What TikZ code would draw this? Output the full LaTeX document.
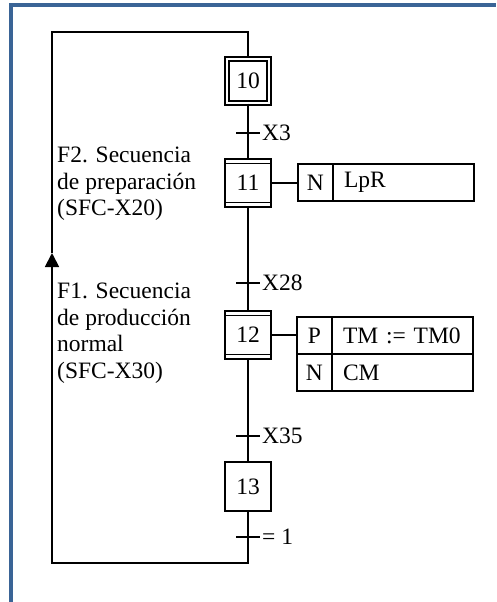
\documentclass[tikz,border=0pt]{standalone}
\usepackage{fontspec}
\setmainfont{Liberation Serif}
\usetikzlibrary{arrows.meta, positioning}
\definecolor{frameblue}{HTML}{3A6496}

\begin{document}
\begin{tikzpicture}[
  x=1pt,y=-1pt,
  every node/.style={font=\fontsize{23.5}{26.5}\selectfont},
  stepbox/.style={rectangle,draw,line width=1.8pt,minimum width=46.2pt,minimum height=48.3pt,inner sep=0pt},
  initstep/.style={stepbox,double,double distance=2.4pt,minimum width=41.6pt,minimum height=43.6pt},
  macrostep/.style={stepbox,path picture={
      \draw[line width=1.8pt]([yshift=-4.6pt]path picture bounding box.north west)--([yshift=-4.6pt]path picture bounding box.north east);
      \draw[line width=1.8pt]([yshift=4.6pt]path picture bounding box.south west)--([yshift=4.6pt]path picture bounding box.south east);}},
  trans/.style={rectangle,fill=black,minimum width=24pt,minimum height=1.9pt,inner sep=0pt,outer sep=0pt,label distance=2pt},
  tlbl/.style={inner sep=2pt},
  qual/.style={rectangle,draw,line width=1.8pt,minimum width=35.2pt,minimum height=37.2pt,inner sep=0pt,outer sep=0pt},
  act/.style={rectangle,draw,line width=1.8pt,minimum height=37.2pt,text width=118.8pt,inner xsep=11pt,inner ysep=0pt,outer sep=0pt,align=left},
  note/.style={align=left,inner sep=0pt},
  link/.style={line width=1.8pt}
]
  \useasboundingbox (0,0) rectangle (496,602);
  \draw[frameblue,line width=4pt](11,602)--(11,5)--(496,5);

  % steps and transitions
  \node[initstep](s10) at (248,81) {10};
  \node[trans,label={[tlbl]right:X3}](t1) at (248,133) {};
  \node[macrostep](s11) at (248,183) {11};
  \node[trans,label={[tlbl]right:X28}](t2) at (248,283) {};
  \node[macrostep](s12) at (248,335) {12};
  \node[trans,label={[tlbl]right:X35}](t3) at (248,436) {};
  \node[stepbox,minimum height=49.2pt](s13) at (248,486.5) {13};
  \node[trans,label={[tlbl]right:= 1}](t4) at (248,537) {};

  % actions
  \node[qual](q11) at (315.4,182.5) {N};
  \node[act,right=0pt of q11](a11) {LpR};
  \node[qual](q12a) at (314.4,335.4) {P};
  \node[act,right=0pt of q12a](a12a) {TM := TM0};
  \node[qual,below=0pt of q12a](q12b) {N};
  \node[act,right=0pt of q12b](a12b) {CM};

  % comments on the left
  \node[note,anchor=north west](f2) at (57,147) {F2. Secuencia\\de preparación\\(SFC-X20)};
  \node[note,anchor=north west](f1) at (57,283) {F1. Secuencia\\de producción\\normal\\(SFC-X30)};

  \coordinate (bl) at (52,563);
  \coordinate (tip) at (52,253);
  \coordinate (tl) at (52,32);

  \draw[link](s10)--(t1)--(s11);
  \draw[link](s11)--(t2)--(s12);
  \draw[link](s12)--(t3)--(s13);
  \draw[link](s11.east)--(s11.east-|q11.west);
  \draw[link](s12.east)--(s12.east-|q12a.west);
  \draw[link,-{Triangle[length=14pt,width=14pt]}](s13)--(t4)|-(bl)--(tip);
  \draw[link](tip)--(tl)-|(s10);
\end{tikzpicture}
\end{document}
